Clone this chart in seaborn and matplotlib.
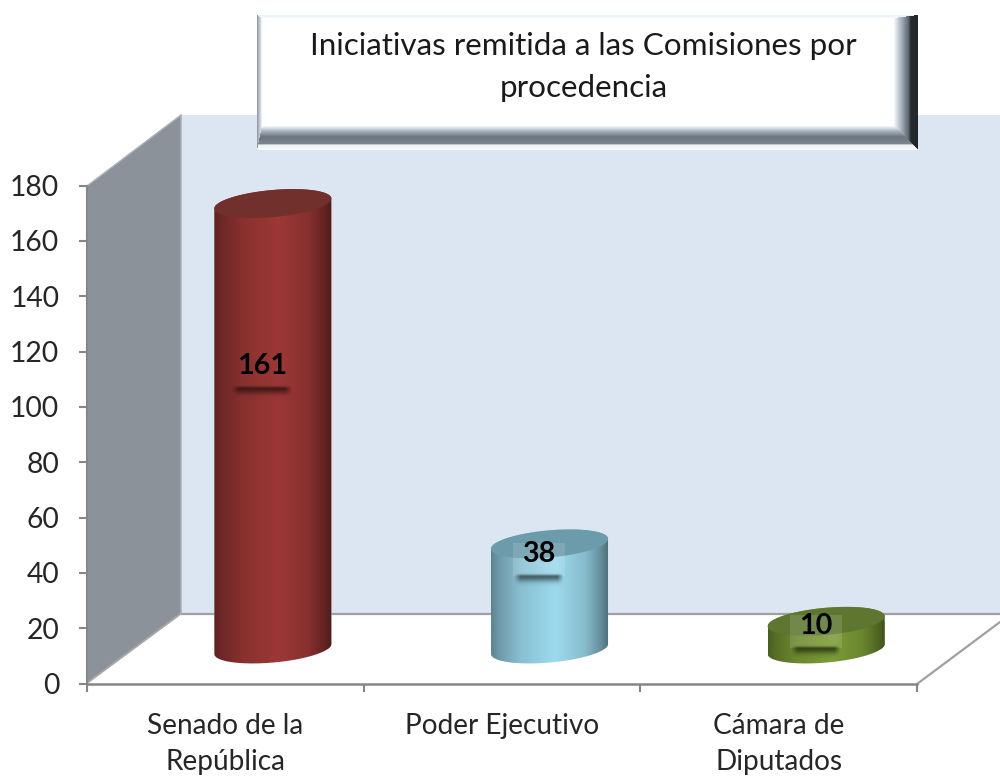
import numpy as np
import pandas as pd
import matplotlib
matplotlib.use("Agg")
import matplotlib.pyplot as plt
from matplotlib.path import Path
from matplotlib.patches import Polygon
from matplotlib.transforms import Affine2D, IdentityTransform
import seaborn as sns

# ---------- data ----------
categories = ["Senado de la\nRepública", "Poder Ejecutivo", "Cámara de\nDiputados"]
values = [161, 38, 10]
y_ticks = list(range(0, 181, 20))
title_text = "Iniciativas remitida a las Comisiones por\nprocedencia"

# ---------- style ----------
bar_colors = ["#9C3836", "#9CDAEE", "#7C9C36"]
top_colors = ["#72302C", "#6C9CAC", "#5E7630"]
label_y = [114.6, 46.8, 20.7]       # label anchor height on the value axis
label_dx = 0.134
depth_px = (47.5, 34.5)             # oblique shift of the bars into the floor
W, H = 1000, 776
LEFT, RIGHT, BOTTOM, TOP = 87, 917, 683.5, 185.5

sns.set_theme(style="white")
plt.rcParams["font.family"] = ["Lato", "DejaVu Sans"]
AXC = "#868686"
TXT = "#262626"

fig = plt.figure(figsize=(W / 100, H / 100), dpi=100, facecolor="white")

# ---------- 3D-looking chart walls (figure pixel space) ----------
bg = fig.add_axes([0, 0, 1, 1], zorder=0)
bg.set_xlim(0, W)
bg.set_ylim(H, 0)
bg.axis("off")
bg.add_patch(Polygon([(181, 115), (1000, 115), (1000, 613), (181, 613)], fc="#DCE6F2", ec="none"))
bg.add_patch(Polygon([(87, 186), (181, 115), (181, 613), (87, 683)], fc="#8B9299", ec="none"))
bg.plot([181, 1000], [613.5, 613.5], color="#A0A0A0", lw=1.6)
bg.plot([87, 181], [683, 613.5], color="#A6A6A6", lw=1.4)
bg.plot([181, 181], [115, 613], color="#A9B2BC", lw=1.2)
bg.plot([87, 181], [186, 115], color="#A9B2BC", lw=1.0)
bg.plot([917, 1000], [684, 622], color="#A0A0A0", lw=1.6)

# ---------- title plate with bevel ----------
bx0, bx1, by0, by1 = 257, 918, 15, 150
bw, bh = bx1 - bx0, by1 - by0
X, Y = np.meshgrid(np.arange(bw) + 0.5, np.arange(bh) + 0.5)
uR, uB, uL, uT = (bw - X) / 24, (bh - Y) / 24, X / 5, Y / 3
umin = np.minimum.reduce([uR, uB, uL, uT])
def ramp(u, stops):
    pos = [s[0] for s in stops]
    out = np.zeros(u.shape + (3,))
    for k in range(3):
        out[..., k] = np.interp(u, pos, [s[1][k] for s in stops])
    return out
img = np.ones((bh, bw, 3))
rightR = ramp(uR, [(0, (.13, .15, .17)), (.30, (.15, .17, .19)), (.4, (.38, .41, .45)),
                   (.7, (.66, .70, .74)), (1, (.97, .98, 1))])
bottomR = ramp(uB, [(0, (.98, .98, .99)), (.2, (.93, .95, .97)), (.27, (.48, .52, .56)),
                    (.55, (.42, .46, .50)), (.8, (.68, .72, .76)), (1, (.97, .98, 1))])
leftR = ramp(uL, [(0, (.55, .58, .62)), (1, (.95, .97, 1))])
topR = ramp(uT, [(0, (.9, .94, .98)), (1, (.97, .98, 1))])
for u, r in [(uR, rightR), (uB, bottomR), (uL, leftR), (uT, topR)]:
    m = (u == umin) & (umin < 1)
    img[m] = r[m]
bg.imshow(img, extent=(bx0, bx1, by1, by0), aspect="auto", interpolation="bilinear", zorder=3)
bg.set_xlim(0, W)
bg.set_ylim(H, 0)
bg.text(583.5, 67, title_text, ha="center", va="center", fontsize=22.6, color="#1A1A1A",
        linespacing=1.62, zorder=4)

# ---------- value axes ----------
ax = fig.add_axes([LEFT / W, (H - BOTTOM) / H, (RIGHT - LEFT) / W, (BOTTOM - TOP) / H], zorder=1)
ax.patch.set_visible(False)
df = pd.DataFrame({"categoria": categories, "valor": values})
sns.barplot(data=df, x="categoria", y="valor", hue="categoria", palette=bar_colors,
            width=0.423, saturation=1, legend=False, ax=ax)
ax.set_xlim(-0.5, 2.5)
ax.set_ylim(0, 180)
ax.set_xlabel("")
ax.set_ylabel("")
ax.set_yticks(y_ticks)
ax.set_xticks(np.arange(-0.5, len(categories)), labels=[""] * (len(categories) + 1))
ax.set_xticks(np.arange(len(categories)), labels=categories, minor=True)
ax.tick_params(axis="y", which="major", length=6, width=1.5, color=AXC, labelsize=20.3,
               labelcolor=TXT, pad=14, left=True)
ax.tick_params(axis="x", which="major", length=6, width=1.5, color=AXC, bottom=True)
ax.tick_params(axis="x", which="minor", length=0, labelsize=20.2, labelcolor=TXT, pad=21)
for lab in ax.get_xticklabels(minor=True):
    lab.set_linespacing(1.5)
for s in ("top", "right"):
    ax.spines[s].set_visible(False)
ax.spines["left"].set_color(AXC)
ax.spines["left"].set_linewidth(1.5)
ax.spines["bottom"].set_color(AXC)
ax.spines["bottom"].set_linewidth(1.8)

# ---------- turn each bar into a cylinder ----------
shift = ax.transData + Affine2D().translate(*depth_px)
t = np.linspace(0, 2 * np.pi, 240, endpoint=False)
tilt = np.radians(5.15)

def ellipse(cx, cy, a):
    A, B = a * 1.004, a * 0.231
    ex, ey = A * np.cos(t), B * np.sin(t)
    return np.column_stack([cx + ex * np.cos(tilt) - ey * np.sin(tilt),
                            cy + ex * np.sin(tilt) + ey * np.cos(tilt)])

def body_outline(top, bot):
    ir = np.argmax(top[:, 0])
    top_r, bot_r = np.roll(top, -ir, axis=0), np.roll(bot, -ir, axis=0)
    il = np.argmin(top_r[:, 0])
    # upper arc of the cap runs right -> left, lower arc of the base left -> right
    return np.vstack([top_r[:il + 1], bot_r[il:], bot_r[:1], top_r[:1]])

pos = [0, .06, .25, .55, .8, .93, 1]
shade = [.60, .70, .88, 1.0, .86, .66, .50]

for i, (patch, val) in enumerate(zip(ax.patches, values)):
    x0, w = patch.get_x(), patch.get_width()
    patch.set_transform(shift)
    pl = shift.transform([x0, 0])
    pr = shift.transform([x0 + w, val])
    a = (pr[0] - pl[0]) / 2
    cx = (pr[0] + pl[0]) / 2
    top = ellipse(cx, pr[1], a)
    bot = ellipse(cx, pl[1], a)
    outline = Path(body_outline(top, bot))
    patch.set_clip_path(outline, IdentityTransform())

    base = np.array(matplotlib.colors.to_rgb(bar_colors[i]))
    grad = np.outer(np.interp(np.linspace(0, 1, 128), pos, shade), base)[None, ...]
    im = ax.imshow(grad, extent=(x0, x0 + w, -20, val + 10), aspect="auto",
                   interpolation="bilinear", zorder=3, transform=shift)
    im.set_clip_path(outline, IdentityTransform())
    ax.add_patch(Polygon(top, closed=True, fc=top_colors[i], ec="none", zorder=4,
                         transform=IdentityTransform()))

    # label with its plate and soft shadow
    lx, ly = i + label_dx, label_y[i]
    txt_px = ax.transData.transform([lx, ly])
    if i:
        ax.add_patch(Polygon([(txt_px[0] - 26, txt_px[1] + 11), (txt_px[0] + 26, txt_px[1] + 11),
                              (txt_px[0] + 26, txt_px[1] - 22), (txt_px[0] - 26, txt_px[1] - 22)],
                             fc="white", alpha=0.13, ec="none", zorder=5,
                             transform=IdentityTransform()))
    sw = 31 if i == 0 else 25
    sy, sx = np.mgrid[-1:1:40j, -1:1:80j]
    # quick rise at the upper edge, long soft fade below, soft ends
    vert = np.where(sy < -0.5, np.exp(-((sy + 0.5) / 0.22) ** 2), np.exp(-((sy + 0.5) / 0.62) ** 2))
    alpha = vert * np.clip((1 - np.abs(sx)) * 4, 0, 1) * 0.82
    rgba = np.dstack([base * 0.34 * np.ones((40, 80, 3)), alpha])
    sh = ax.imshow(rgba, aspect="auto", zorder=5, interpolation="bilinear", origin="upper",
                   extent=(txt_px[0] - sw, txt_px[0] + sw, txt_px[1] - 35, txt_px[1] - 18),
                   transform=IdentityTransform())
    sh.set_clip_path(outline, IdentityTransform())
    ax.text(lx, ly, str(val), ha="center", va="center", fontsize=20.7, fontweight="bold",
            color="black", zorder=6)

ax.set_xlim(-0.5, 2.5)
ax.set_ylim(0, 180)

fig.savefig("out.png", dpi=100, facecolor="white")
